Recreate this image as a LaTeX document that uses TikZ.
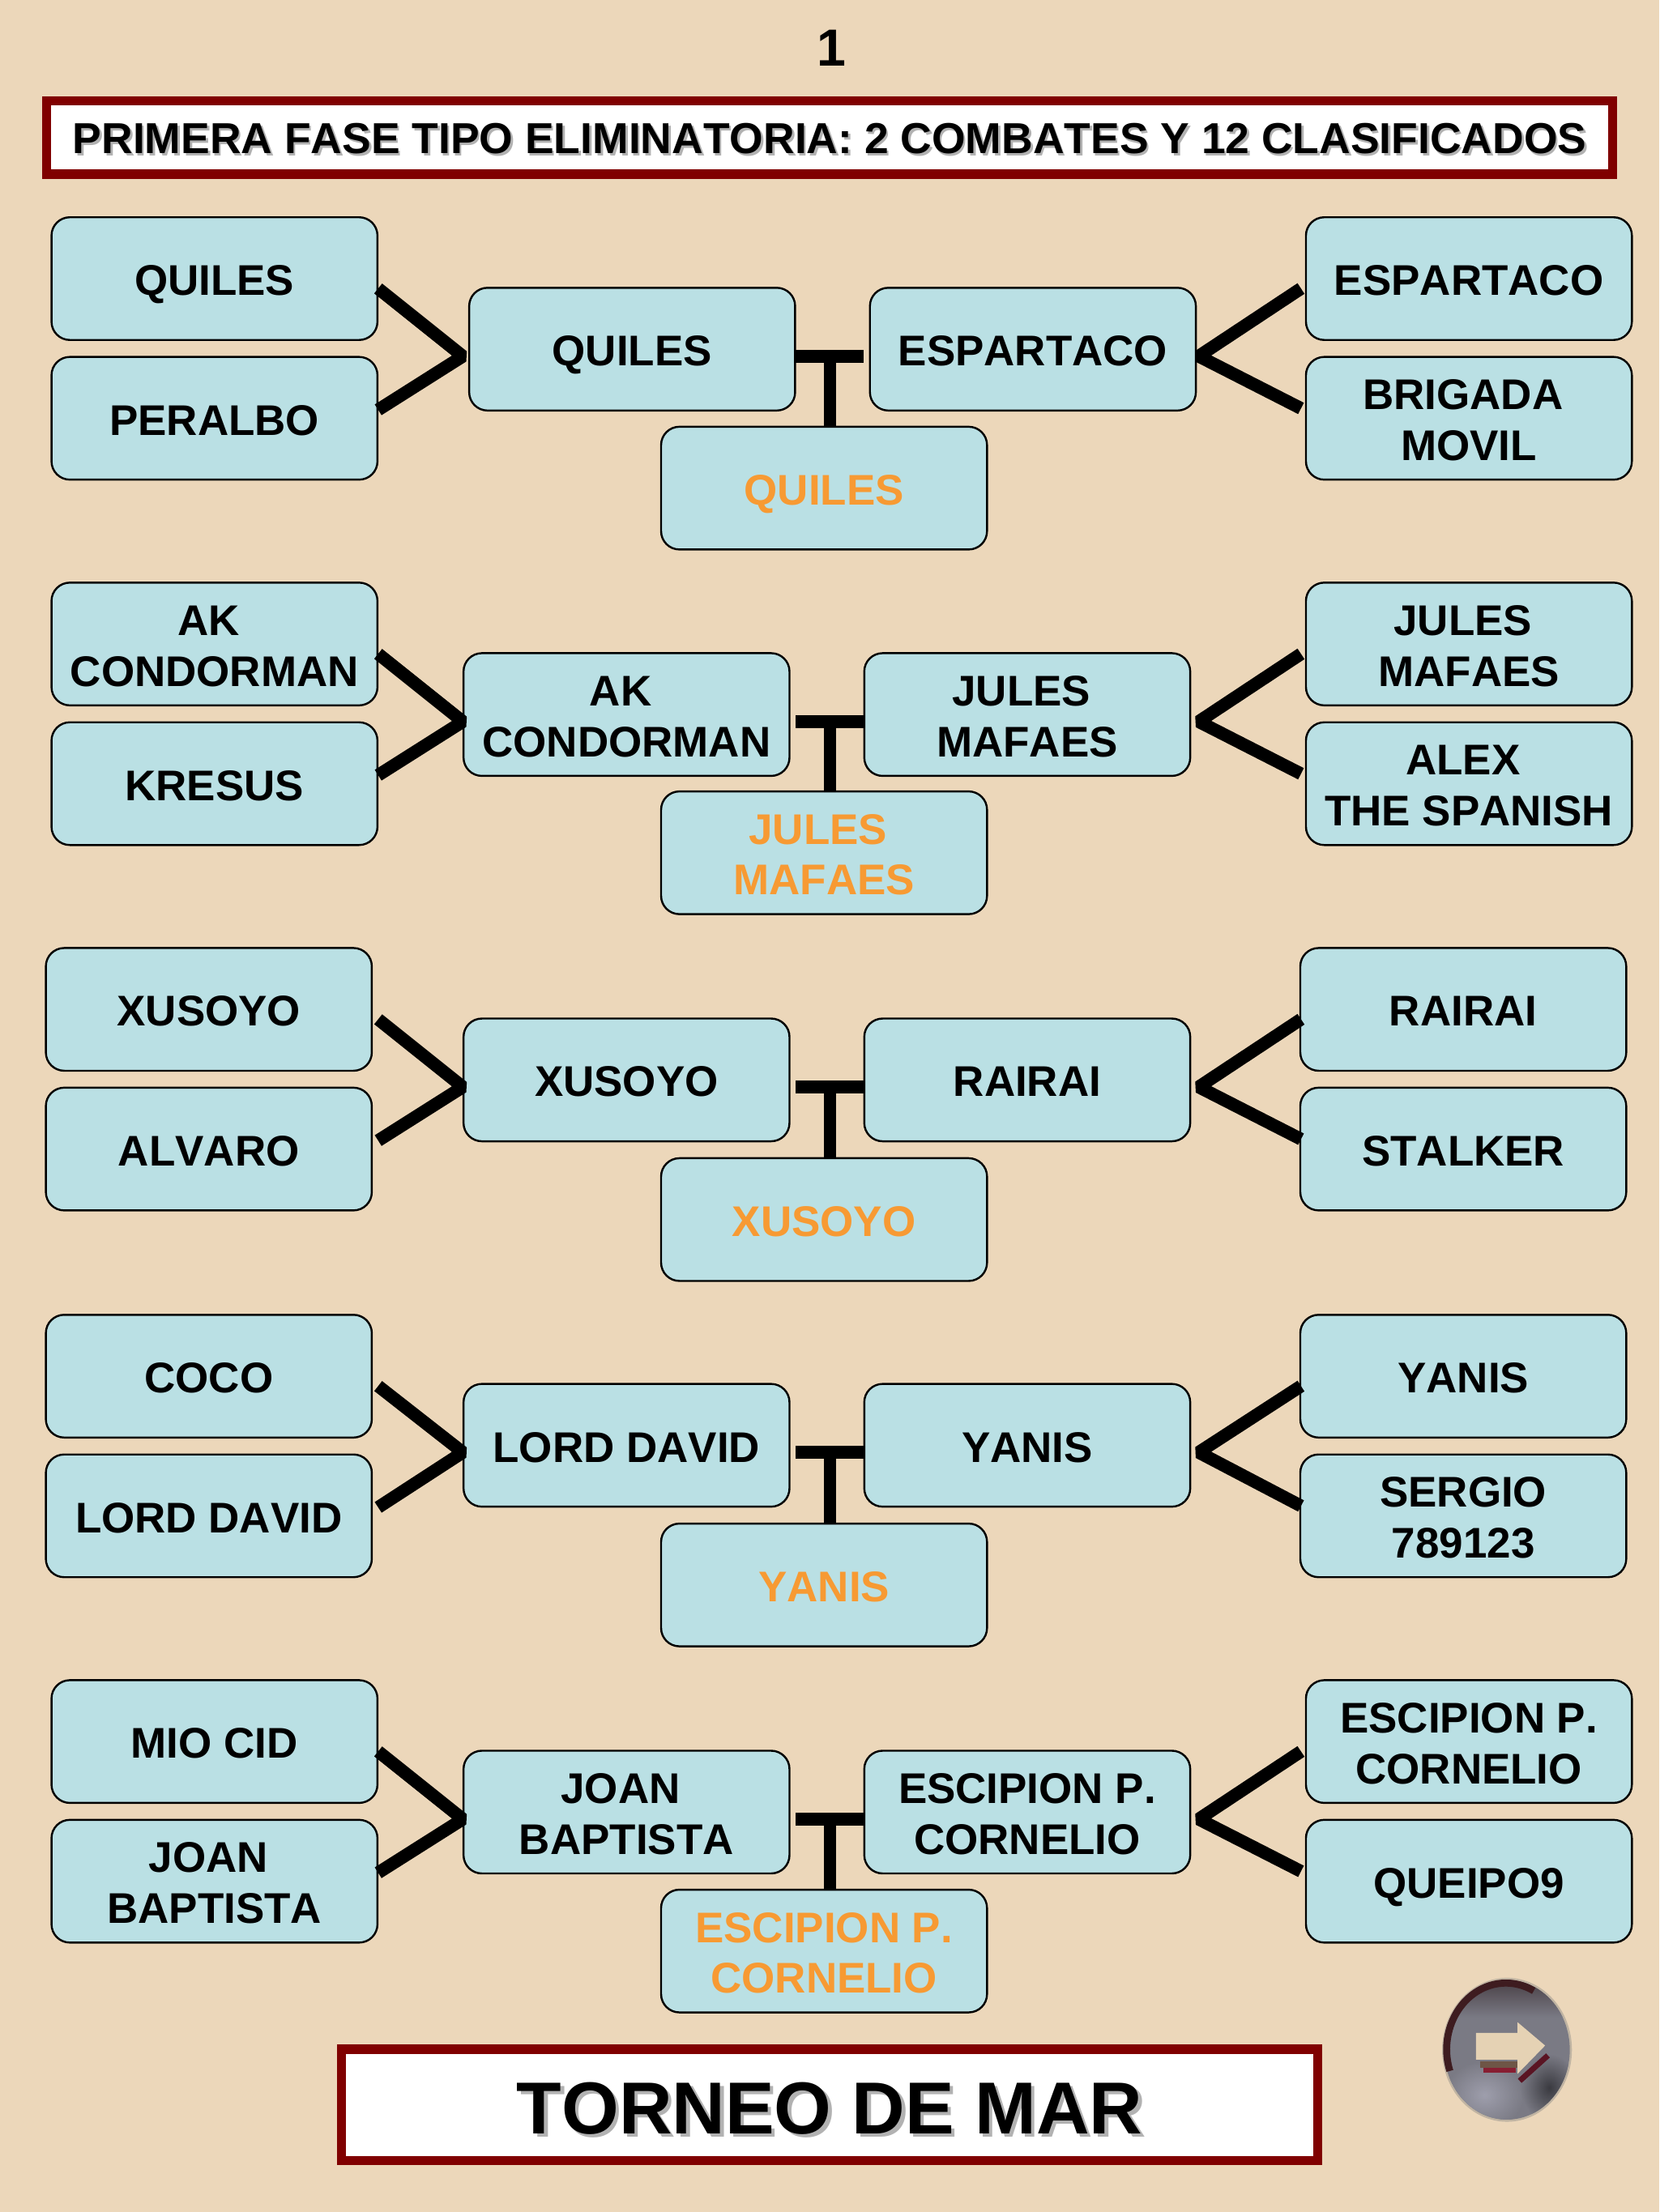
\documentclass[tikz,border=0pt]{standalone}
\usepackage{fontspec}
\setmainfont{Liberation Sans}[Kerning=Off]
\usetikzlibrary{calc}
\definecolor{bg}{RGB}{236,215,186}
\definecolor{boxc}{RGB}{186,224,228}
\definecolor{orangec}{RGB}{247,154,51}
\definecolor{redc}{RGB}{128,0,0}
\newcommand{\shadowtext}[2]{\rlap{\kern#1\raisebox{-#1}{\color{black!30}#2}}#2}
\newcommand{\lab}[1]{\raisebox{-10.9pt}[0pt][0pt]{\begin{tabular}{@{}c@{}}#1\end{tabular}}}
\newcommand{\tsp}{\hspace*{8.4pt}}
\tikzset{x=1pt,y=-1pt,
 player/.style={draw=black,line width=1.4pt,fill=boxc,rounded corners=13pt,minimum width=231pt,minimum height=87pt,inner sep=0pt,font=\bfseries\fontsize{30.4}{36}\selectfont},
 winner/.style={player,text=orangec},
 conn/.style={draw=black,line width=9pt,line join=bevel},
 title/.style={draw=redc,line width=6.5pt,fill=white,inner sep=0pt,font=\bfseries},
}
\begin{document}
\begin{tikzpicture}
\useasboundingbox (0,0) rectangle (1176,1568);
\fill[bg] (0,0) rectangle (1176,1568);
\node[font=\bfseries\fontsize{37}{40}\selectfont] (num) at (589.5,34) {1};
\node[title,minimum width=1110pt,minimum height=52pt,font=\bfseries\fontsize{30.7}{36}\selectfont] (head) at (588,97.5) {\raisebox{-11.5pt}[0pt][0pt]{\shadowtext{1.5pt}{PRIMERA FASE TIPO ELIMINATORIA: 2 COMBATES Y 12 CLASIFICADOS}}};
\node[title,minimum width=692pt,minimum height=79pt,font=\bfseries\fontsize{52.2}{60}\selectfont] (foot) at (588,1492) {\raisebox{-20.5pt}[0pt][0pt]{\shadowtext{2.5pt}{TORNEO DE MAR}}};
% ---- Row 1
\node[player] (a1) at (152,197.5) {\lab{QUILES}};
\node[player] (a2) at (152,296.5) {\lab{PERALBO}};
\node[player] (am) at (448,247.5) {\lab{QUILES}};
\node[player] (an) at (732,247.5) {\lab{ESPARTACO}};
\node[player] (a3) at (1041,197.5) {\lab{ESPARTACO}};
\node[player] (a4) at (1041,296.5) {\lab{BRIGADA\tsp\\MOVIL}};
\node[winner] (aw) at (584,346) {\lab{QUILES}};
% ---- Row 2
\node[player] (b1) at (152,456.5) {\lab{AK\tsp\\CONDORMAN}};
\node[player] (b2) at (152,555.5) {\lab{KRESUS}};
\node[player] (bm) at (444,506.5) {\lab{AK\tsp\\CONDORMAN}};
\node[player] (bn) at (728,506.5) {\lab{JULES\tsp\\MAFAES}};
\node[player] (b3) at (1041,456.5) {\lab{JULES\tsp\\MAFAES}};
\node[player] (b4) at (1041,555.5) {\lab{ALEX\tsp\\THE SPANISH}};
\node[winner] (bw) at (584,604.5) {\lab{JULES\tsp\\MAFAES}};
% ---- Row 3
\node[player] (c1) at (148,715.5) {\lab{XUSOYO}};
\node[player] (c2) at (148,814.5) {\lab{ALVARO}};
\node[player] (cm) at (444,765.5) {\lab{XUSOYO}};
\node[player] (cn) at (728,765.5) {\lab{RAIRAI}};
\node[player] (c3) at (1037,715.5) {\lab{RAIRAI}};
\node[player] (c4) at (1037,814.5) {\lab{STALKER}};
\node[winner] (cw) at (584,864.5) {\lab{XUSOYO}};
% ---- Row 4
\node[player] (d1) at (148,975.5) {\lab{COCO}};
\node[player] (d2) at (148,1074.5) {\lab{LORD DAVID}};
\node[player] (dm) at (444,1024.5) {\lab{LORD DAVID}};
\node[player] (dn) at (728,1024.5) {\lab{YANIS}};
\node[player] (d3) at (1037,975.5) {\lab{YANIS}};
\node[player] (d4) at (1037,1074.5) {\lab{SERGIO\\789123}};
\node[winner] (dw) at (584,1123.5) {\lab{YANIS}};
% ---- Row 5
\node[player] (e1) at (152,1234.5) {\lab{MIO CID}};
\node[player] (e2) at (152,1333.5) {\lab{JOAN\tsp\\BAPTISTA}};
\node[player] (em) at (444,1284.5) {\lab{JOAN\tsp\\BAPTISTA}};
\node[player] (en) at (728,1284.5) {\lab{ESCIPION P.\\CORNELIO}};
\node[player] (e3) at (1041,1234.5) {\lab{ESCIPION P.\\CORNELIO}};
\node[player] (e4) at (1041,1333.5) {\lab{QUEIPO9}};
\node[winner] (ew) at (584,1383) {\lab{ESCIPION P.\\CORNELIO}};
% ---- connectors
\foreach \r in {a,b,c,d,e}{
 \coordinate[yshift=-5pt] (\r L) at (328,0 |- \r m.west);
 \coordinate[yshift=-5pt] (\r R) at (849.5,0 |- \r n.east);
 \coordinate[yshift=-7pt] (\r LA) at (268,0 |- \r1.east);
 \coordinate[yshift=6pt]  (\r LB) at (268,0 |- \r2.east);
 \coordinate[yshift=-7pt] (\r RA) at (922,0 |- \r3.west);
 \coordinate[yshift=7pt]  (\r RB) at (922,0 |- \r4.west);
 \coordinate[yshift=-5pt] (\r TA) at (564,0 |- \r m.east);
 \coordinate[yshift=-5pt] (\r TB) at (612,0 |- \r n.west);
 \coordinate (\r TC) at ($(\r TA)!0.5!(\r TB)$);
 \draw[conn] (\r LA) -- (\r L) -- (\r LB);
 \draw[conn] (\r RA) -- (\r R) -- (\r RB);
 \draw[conn] (\r TA) -- (\r TB);
 \draw[conn,line width=8.5pt] (\r TC) -- (\r TC |- \r w.north);
}
% ---- button (drawn as a small scene)
\fill[black!50,opacity=.4] (1068,1453) ellipse [x radius=46pt,y radius=51pt];
\begin{scope}
 \clip (1068,1453) ellipse [x radius=44.5pt,y radius=49.5pt];
 \fill[color={rgb,255:red,122;green,122;blue,132}] (1020,1400) rectangle (1116,1506);
 \shade[inner color={rgb,255:red,158;green,158;blue,172},outer color={rgb,255:red,122;green,122;blue,132}] (1052,1485) ellipse [x radius=28pt,y radius=24pt];
 \shade[inner color={rgb,255:red,58;green,58;blue,64},outer color={rgb,255:red,122;green,122;blue,132}] (1098,1480) ellipse [x radius=20pt,y radius=24pt];
 \shade[top color={rgb,255:red,70;green,60;blue,66},bottom color={rgb,255:red,122;green,122;blue,132}] (1024,1402) rectangle (1112,1430);
\end{scope}
\draw[line width=5pt,color={rgb,255:red,62;green,28;blue,32}] (1027.5,1468) arc[x radius=42pt,y radius=47pt,start angle=199,end angle=62];
\fill[color={rgb,255:red,110;green,85;blue,70}] (1049,1461) rectangle (1076,1465.5);
\fill[color={rgb,255:red,135;green,30;blue,50}] (1051,1465.5) rectangle (1074,1469);
\draw[line width=4pt,color={rgb,255:red,90;green,20;blue,35}] (1097,1457) -- (1077,1475);
\fill[color={rgb,255:red,229;green,210;blue,180}] (1046,1441) -- (1075.5,1441) -- (1075.5,1433.5) -- (1095,1450) -- (1075.5,1470) -- (1075.5,1460) -- (1046,1460) -- cycle;
\end{tikzpicture}
\end{document}
